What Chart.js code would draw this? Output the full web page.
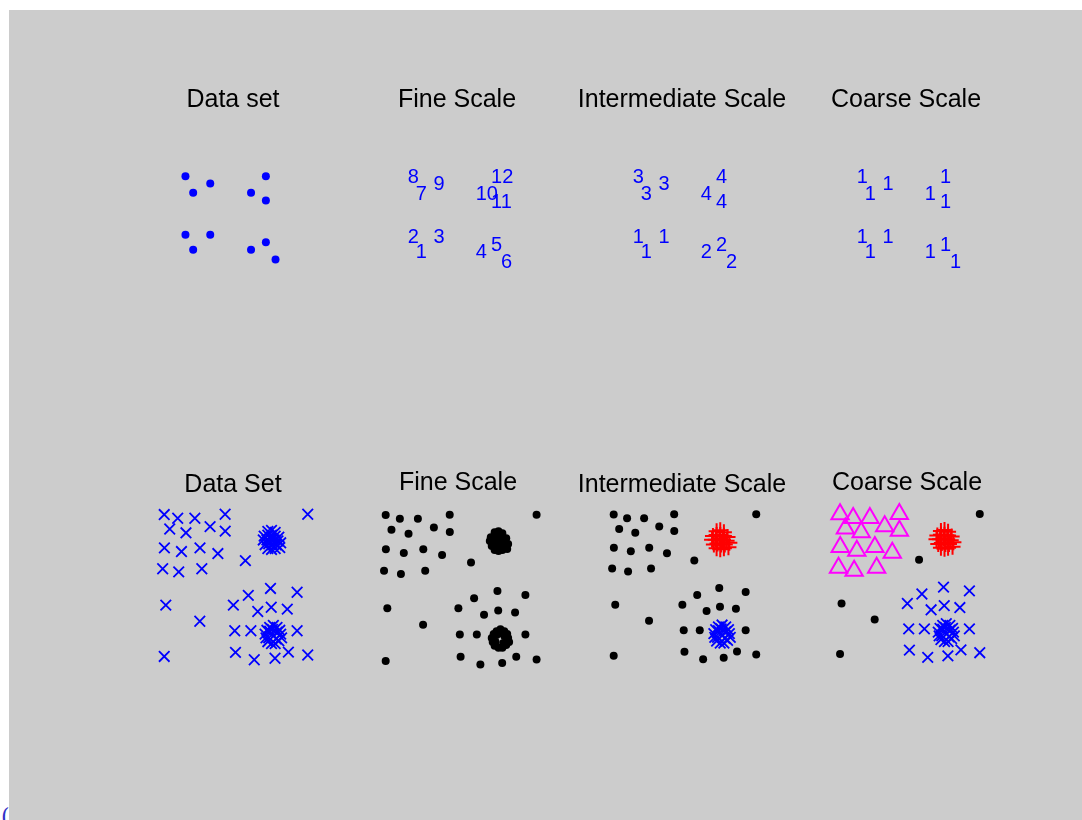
<!DOCTYPE html>
<html><head><meta charset="utf-8">
<script src="https://cdn.jsdelivr.net/npm/chart.js@4"></script>
<style>
html,body{margin:0;padding:0;background:#fff;width:1082px;height:820px;overflow:hidden;}
#bg{position:absolute;left:9px;top:10px;width:1073px;height:810px;background:#cccccc;}
canvas{position:absolute;}
#paren{position:absolute;left:1px;top:806px;font:22px "DejaVu Serif",serif;color:#3232c8;line-height:1;}
</style></head><body>
<div id="bg"></div>
<div id="paren">(</div>
<script>
// ---------- Top row: 12-point data set ----------
const topX = [0.83, 3.40, 1.63, 9.17, 7.63, 9.17, 0.83, 3.40, 1.63, 9.17, 7.63, 10.17];
const topY = [9.27, 8.53, 7.57, 9.27, 7.57, 6.77, 3.27, 3.27, 1.73, 2.50, 1.73, 0.73];
const fineLabels         = ['8','9','7','12','10','11','2','3','1','5','4','6'];
const intermediateLabels = ['3','3','3','4','4','4','1','1','1','2','2','2'];
const coarseLabels       = ['1','1','1','1','1','1','1','1','1','1','1','1'];
const topTitles    = ['Data set', 'Fine Scale', 'Intermediate Scale', 'Coarse Scale'];
const bottomTitles = ['Data Set', 'Fine Scale', 'Intermediate Scale', 'Coarse Scale'];

// ---------- Bottom row: groups of points ----------
// upper-left loose group (magenta at coarse scale)
const groupTLX = [0.80, 2.27, 4.14, 7.44, 1.40, 3.17, 5.80, 7.45, 0.82, 2.68, 4.70, 6.65, 0.63, 2.38, 4.90];
const groupTLY = [15.47, 15.08, 15.08, 15.50, 13.95, 13.55, 14.20, 13.73, 11.97, 11.58, 11.97, 11.37, 9.77, 9.44, 9.77];
// isolated points (black at every scale)
const loneX = [16.45, 9.65, 0.97, 4.68, 0.80];
const loneY = [15.50, 10.62, 5.95, 4.25, 0.55];
// lower-right loose group
const scatterX = [12.39, 15.29, 9.97, 8.34, 12.47, 11.00, 14.22, 8.49, 10.25, 15.29, 8.57, 10.62, 12.88, 14.34, 16.45];
const scatterY = [7.70, 7.30, 6.97, 5.95, 5.72, 5.28, 5.52, 3.25, 3.25, 3.25, 0.98, 0.20, 0.36, 1.00, 0.70];
// upper-right dense cluster (red at intermediate / coarse scale)
const clusterUpX = [12.1, 12.5, 12.9, 11.7, 12.1, 12.5, 12.9, 13.3, 11.6, 12.0, 12.4, 12.8, 13.2, 13.5, 11.8, 12.2, 12.6, 13.0, 13.4, 12.1, 12.5, 12.9];
const clusterUpY = [13.7, 13.8, 13.6, 13.2, 13.3, 13.3, 13.2, 13.1, 12.8, 12.8, 12.9, 12.8, 12.7, 12.5, 12.3, 12.4, 12.3, 12.3, 12.0, 11.9, 11.8, 11.9];
// lower-right dense ring cluster
const clusterLowX = [13.5, 13.4, 13.1, 12.7, 12.3, 12.0, 11.8, 11.9, 12.1, 12.5, 12.9, 13.3, 13.6, 12.3, 13.0, 12.6, 13.1, 12.2];
const clusterLowY = [2.9, 3.3, 3.6, 3.8, 3.6, 3.3, 2.9, 2.5, 2.1, 1.9, 1.9, 2.2, 2.5, 3.2, 2.4, 3.4, 3.1, 2.5];

// ---------- helpers ----------
const pts = (xs, ys) => xs.map((x, i) => ({x: x, y: ys[i]}));
const BLUE = '#0000ff', RED = '#ff0000', MAG = '#ff00ff', BLACK = '#000000';
const blueX   = d => ({data: d, pointStyle: 'crossRot', pointRadius: 7.5, borderColor: BLUE, borderWidth: 1.8});
const dots    = (d, c) => ({data: d, pointStyle: 'circle', pointRadius: 4, backgroundColor: c, borderColor: c, borderWidth: 0});
const redPlus = d => ({data: d, pointStyle: 'cross', pointRadius: 8, borderColor: RED, borderWidth: 2});
const magTri  = d => ({data: d, pointStyle: 'triangle', pointRadius: 10, borderColor: MAG, backgroundColor: 'rgba(0,0,0,0)', borderWidth: 2});
const hidden  = d => ({data: d, pointRadius: 0, borderWidth: 0});

Chart.defaults.font.family = '"Liberation Sans", Arial, sans-serif';

const labelPlugin = {
  id: 'pointLabels',
  afterDatasetsDraw(chart, args, opts) {
    if (!opts || !opts.labels) return;
    const ctx = chart.ctx;
    const meta = chart.getDatasetMeta(0);
    ctx.save();
    ctx.fillStyle = BLUE;
    ctx.font = '20px "Liberation Sans", Arial, sans-serif';
    ctx.textAlign = 'left';
    ctx.textBaseline = 'middle';
    meta.data.forEach((el, i) => ctx.fillText(opts.labels[i], el.x, el.y));
    ctx.restore();
  }
};

function panel(left, top, w, h, xr, yr, title, padTop, padBottom, datasets, labels) {
  const c = document.createElement('canvas');
  c.width = w; c.height = h;
  c.style.left = left + 'px'; c.style.top = top + 'px';
  document.body.appendChild(c);
  new Chart(c, {
    type: 'scatter',
    data: {datasets: datasets},
    plugins: [labelPlugin],
    options: {
      responsive: false, animation: false, events: [],
      layout: {padding: 0},
      scales: {
        x: {type: 'linear', display: false, min: xr[0], max: xr[1]},
        y: {type: 'linear', display: false, min: yr[0], max: yr[1]}
      },
      plugins: {
        legend: {display: false}, tooltip: {enabled: false},
        title: {display: true, text: title, color: '#000', font: {size: 25, weight: 'normal', lineHeight: 1.2},
                padding: {top: padTop, bottom: padBottom}},
        pointLabels: {labels: labels || null}
      }
    }
  });
}

// ---------- top row ----------
const topPts = pts(topX, topY);
const topSets = [
  [dots(topPts, BLUE)],
  [hidden(topPts)],
  [hidden(topPts)],
  [hidden(topPts)]
];
const topLabelSets = [null, fineLabels, intermediateLabels, coarseLabels];
for (let k = 0; k < 4; k++) {
  const origin = 175 + k * 224.6;
  panel(origin - 54.4, 60, 224, 240, [-5.44, 16.96], [-3, 14], topTitles[k], 25, 15, topSets[k], topLabelSets[k]);
}

// ---------- bottom row ----------
const tl = pts(groupTLX, groupTLY), lone = pts(loneX, loneY), sc = pts(scatterX, scatterY);
const cu = pts(clusterUpX, clusterUpY), cl = pts(clusterLowX, clusterLowY);
const all = [...tl, ...lone, ...sc, ...cu, ...cl];
const bottomSets = [
  [blueX(all)],
  [dots(all, BLACK)],
  [dots([...tl, ...lone, ...sc], BLACK), redPlus(cu), blueX(cl)],
  [magTri(tl), dots(lone, BLACK), redPlus(cu), blueX([...sc, ...cl])]
];
const bottomTitlePad = [30, 28, 30, 28];
for (let k = 0; k < 4; k++) {
  const origin = 150 + k * 224.6;
  panel(origin - 29, 440, 224, 250, [-2.9, 19.5], [-2, 17], bottomTitles[k], bottomTitlePad[k], 30 - bottomTitlePad[k], bottomSets[k]);
}
</script>
</body></html>
